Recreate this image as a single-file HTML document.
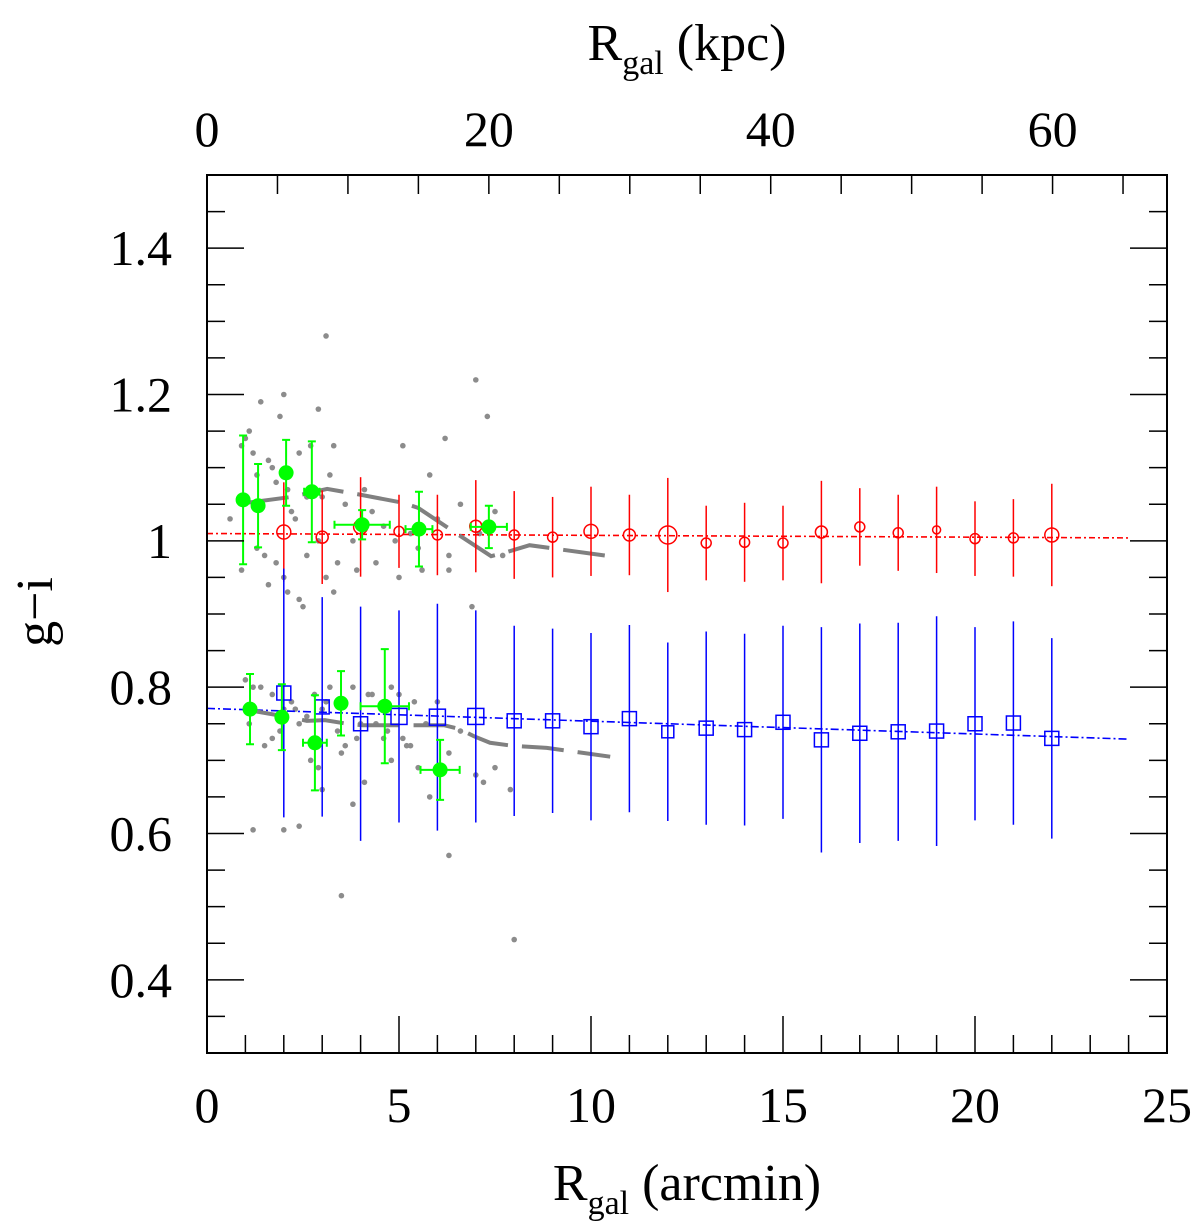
<!DOCTYPE html>
<html><head><meta charset="utf-8"><style>
html,body{margin:0;padding:0;background:#fff}
svg{display:block}
text{font-family:"Liberation Serif",serif;fill:#000}
</style></head><body>
<svg id="chart" width="1200" height="1227" viewBox="0 0 1200 1227" xmlns="http://www.w3.org/2000/svg">
<rect x="0" y="0" width="1200" height="1227" fill="#fff"/>
<g id="scatter"></g>
<g id="lines"></g>
<g id="marks"></g>
<g id="axes"></g>
</svg>
<script>
// ---- data ----
const redX=[2,3,4,5,6,7,8,9,10,11,12,13,14,15,16,17,18,19,20,21,22];
const redY=[1.012,1.005,1.019,1.013,1.008,1.020,1.008,1.005,1.013,1.008,1.008,0.997,0.998,0.997,1.012,1.019,1.011,1.015,1.003,1.004,1.008];
const redErr=[0.068,0.064,0.068,0.050,0.055,0.063,0.060,0.055,0.061,0.055,0.078,0.051,0.054,0.051,0.070,0.053,0.052,0.059,0.051,0.053,0.070];
const redR=[7,6,7,5,5,6,5,5,7,6,9,5,5,5,6,5,5,4,5,5,7];
const blueX=[2,3,4,5,6,7,8,9,10,11,12,13,14,15,16,17,18,19,20,21,22];
const blueY=[0.792,0.773,0.750,0.760,0.759,0.760,0.754,0.754,0.746,0.757,0.739,0.744,0.742,0.752,0.728,0.737,0.739,0.740,0.750,0.751,0.730];
const blueErr=[0.17,0.15,0.16,0.145,0.155,0.145,0.13,0.126,0.128,0.128,0.122,0.132,0.131,0.132,0.154,0.15,0.149,0.157,0.132,0.139,0.137];
const blueS=[7,7,7,8,8,8,7,7,7,7,6,7,7,7,7,7,7,7,7,7,7];
const greenX=[0.94,1.33,2.06,2.73,4.04,5.52,7.34,1.12,1.95,2.81,3.49,4.63,6.07];
const greenY=[1.056,1.048,1.093,1.067,1.022,1.016,1.019,0.770,0.759,0.724,0.778,0.774,0.687];
const greenYErr=[0.088,0.057,0.045,0.069,0.02,0.051,0.029,0.048,0.045,0.065,0.044,0.078,0.041];
const greenXErr=[0,0.12,0,0.2,0.72,0.35,0.47,0,0,0.31,0,0.63,0.51];
const grayUpX=[1.04,2.2,3.13,4.0,5.1,5.5,6.5,7.4,7.7,8.4,10.5];
const grayUpY=[1.052,1.06,1.071,1.063,1.052,1.045,1.01,0.979,0.983,0.994,0.979];
const grayLoX=[1.04,2.13,2.6,3.07,3.65,4.04,5.13,5.55,6.17,6.56,6.95,7.37,7.94,8.85,10.5];
const grayLoY=[0.769,0.759,0.754,0.755,0.750,0.748,0.748,0.748,0.748,0.743,0.733,0.724,0.720,0.717,0.705];
const redFitX=[0,24], redFitY=[1.010,1.004];
const blueFitX=[0,24], blueFitY=[0.771,0.729];
const dotX=[0.6,0.9,1.0,1.1,1.2,1.3,1.4,1.6,1.7,1.8,1.9,2.0,2.1,2.2,2.3,2.4,2.6,2.7,2.9,3.0,3.1,3.2,3.3,3.6,3.8,4.1,4.3,4.6,4.9,5.1,5.3,5.5,5.8,6.0,6.2,6.3,6.6,7.0,7.1,7.3,7.5,7.7,0.9,1.3,1.6,1.8,2.1,2.4,2.6,2.9,3.1,3.3,1.5,2.0,2.5,3.4,3.9,4.4,5.0,5.6,6.3,6.9,
1.0,1.2,1.4,1.7,2.0,2.2,2.4,2.6,2.8,3.0,3.2,3.4,3.6,3.8,4.0,4.2,4.4,4.6,4.8,5.0,5.2,5.4,5.7,6.0,6.3,6.6,7.0,7.5,7.9,1.1,1.5,1.9,2.3,2.7,3.1,3.5,3.9,4.3,4.7,5.1,5.5,2.0,3.5,6.3,8.0,1.2,2.4,3.0,3.8,4.8,5.8,7.2,1.7,2.9,4.1,5.3];
const dotY=[1.03,1.13,1.14,1.15,1.12,1.09,1.19,1.11,1.10,1.08,1.17,1.20,1.07,1.04,1.03,1.12,1.06,1.13,1.18,1.06,1.28,1.09,1.13,1.05,1.00,1.07,1.04,1.02,1.00,1.13,1.01,0.99,1.09,1.03,1.14,0.98,1.05,1.22,1.01,1.17,1.04,0.98,0.96,0.99,0.94,0.97,0.93,0.92,0.98,1.00,0.95,0.93,0.98,0.95,0.91,0.97,0.96,0.97,0.95,0.96,0.96,0.91,
0.81,0.80,0.80,0.79,0.77,0.78,0.75,0.76,0.79,0.77,0.80,0.74,0.72,0.80,0.75,0.79,0.75,0.73,0.80,0.79,0.72,0.78,0.75,0.78,0.71,0.74,0.68,0.69,0.66,0.75,0.72,0.74,0.77,0.70,0.78,0.71,0.73,0.79,0.74,0.73,0.69,0.605,0.515,0.57,0.455,0.605,0.61,0.66,0.64,0.70,0.65,0.67,0.73,0.69,0.67,0.72];
const xTicksMajor=[0,5,10,15,20,25];
const kpcTicks=[0,20,40,60];
const yTicksMajor=[0.4,0.6,0.8,1.0,1.2,1.4];
const yTickLabels=["0.4","0.6","0.8","1","1.2","1.4"];
const kpcPerArcmin=20/7.34;
// ---- scales ----
const X0=207,X1=1167,Y0=175,Y1=1053;
const xMin=0,xMax=25,yMin=0.3,yMax=1.5;
const px=v=>X0+(v-xMin)/(xMax-xMin)*(X1-X0);
const py=v=>Y1-(v-yMin)/(yMax-yMin)*(Y1-Y0);
const NS="http://www.w3.org/2000/svg";
function mk(parent,tag,attrs){const e=document.createElementNS(NS,tag);for(const k in attrs)e.setAttribute(k,attrs[k]);parent.appendChild(e);return e;}
const gS=document.getElementById('scatter'),gL=document.getElementById('lines'),gM=document.getElementById('marks'),gA=document.getElementById('axes');
// scatter
for(let i=0;i<dotX.length;i++){
  const c=mk(gS,'circle',{cx:px(dotX[i]),cy:py(dotY[i]),r:2.8,fill:'#8c8c8c'});
  
  
}
// lines
function poly(xs,ys,stroke,w,dash,name){
  const pts=xs.map((x,i)=>px(x)+','+py(ys[i])).join(' ');
  const p=mk(gL,'polyline',{points:pts,fill:'none',stroke:stroke,'stroke-width':w,'stroke-dasharray':dash});
  
  
}
poly(redFitX,redFitY,'#f00',1.6,'6 3 2 3','red-fit-line');
poly(blueFitX,blueFitY,'#00f',1.6,'8 3 2 3','blue-fit-line');
poly(grayUpX,grayUpY,'#808080',4,'42 14','gray-model-upper');
poly(grayLoX,grayLoY,'#808080',4,'42 14','gray-model-lower');
// red
for(let i=0;i<redX.length;i++){
  const x=px(redX[i]),y=py(redY[i]);
  const l=mk(gM,'line',{x1:x,x2:x,y1:py(redY[i]+redErr[i]),y2:py(redY[i]-redErr[i]),stroke:'#f00','stroke-width':1.5});
  
  
  const c=mk(gM,'circle',{cx:x,cy:y,r:redR[i],fill:'none',stroke:'#f00','stroke-width':1.5});
  
  
}
// blue
for(let i=0;i<blueX.length;i++){
  const x=px(blueX[i]),y=py(blueY[i]),s=blueS[i];
  const l=mk(gM,'line',{x1:x,x2:x,y1:py(blueY[i]+blueErr[i]),y2:py(blueY[i]-blueErr[i]),stroke:'#00f','stroke-width':1.5});
  
  
  const r=mk(gM,'rect',{x:x-s,y:y-s,width:2*s,height:2*s,fill:'none',stroke:'#00f','stroke-width':1.5});
  
  
}
// green
for(let i=0;i<greenX.length;i++){
  const x=px(greenX[i]),y=py(greenY[i]);
  const ya=py(greenY[i]+greenYErr[i]),yb=py(greenY[i]-greenYErr[i]);
  const l=mk(gM,'path',{d:`M${x},${ya}V${yb}M${x-4},${ya}H${x+4}M${x-4},${yb}H${x+4}`,stroke:'#0f0','stroke-width':2,fill:'none'});
  
  
  if(greenXErr[i]>0){
    const xa=px(greenX[i]-greenXErr[i]),xb=px(greenX[i]+greenXErr[i]);
    const h=mk(gM,'path',{d:`M${xa},${y}H${xb}M${xa},${y-4}V${y+4}M${xb},${y-4}V${y+4}`,stroke:'#0f0','stroke-width':2,fill:'none'});
    
    
  }
  const c=mk(gM,'circle',{cx:x,cy:y,r:7.5,fill:'#0f0'});
  
  
}
// axes
const fr=mk(gA,'rect',{x:X0,y:Y0,width:X1-X0,height:Y1-Y0,fill:'none',stroke:'#000','stroke-width':2});


let d='';
for(let v=0;v<=25;v++){const x=px(v),L=(v%5===0)?37:18;d+=`M${x},${Y1}v${-L}`;}
for(let k=0;k<=65;k+=5){const x=px(k/kpcPerArcmin);if(x<X1)d+=`M${x},${Y0}v19`;}
for(let i=0;i<=24;i++){const v=0.3+i*0.05;const y=py(v);const L=(Math.round(v*100)%20===0)?37:18;d+=`M${X0},${y}h${L}M${X1},${y}h${-L}`;}
const tk=mk(gA,'path',{d:d,stroke:'#000','stroke-width':1.5,fill:'none'});


xTicksMajor.forEach(v=>{const t=mk(gA,'text',{x:px(v),y:1122,'font-size':50,'text-anchor':'middle'});t.textContent=v;
  
  });
kpcTicks.forEach(v=>{const t=mk(gA,'text',{x:px(v/kpcPerArcmin),y:146,'font-size':50,'text-anchor':'middle'});t.textContent=v;
  
  });
yTicksMajor.forEach((v,i)=>{const t=mk(gA,'text',{x:172,y:py(v)+17,'font-size':50,'text-anchor':'end'});t.textContent=yTickLabels[i];
  
  });
</script>
<svg style="position:absolute;left:0;top:0" width="1200" height="1227">
<text x="687" y="1200" font-size="52" text-anchor="middle">R<tspan font-size="34" dy="14">gal</tspan><tspan dy="-14"> (arcmin)</tspan></text>
<text x="687" y="60" font-size="52" text-anchor="middle">R<tspan font-size="34" dy="14">gal</tspan><tspan dy="-14"> (kpc)</tspan></text>
<text transform="translate(52,612) rotate(-90)" font-size="52" text-anchor="middle">g−i</text>
</svg>
</body></html>
